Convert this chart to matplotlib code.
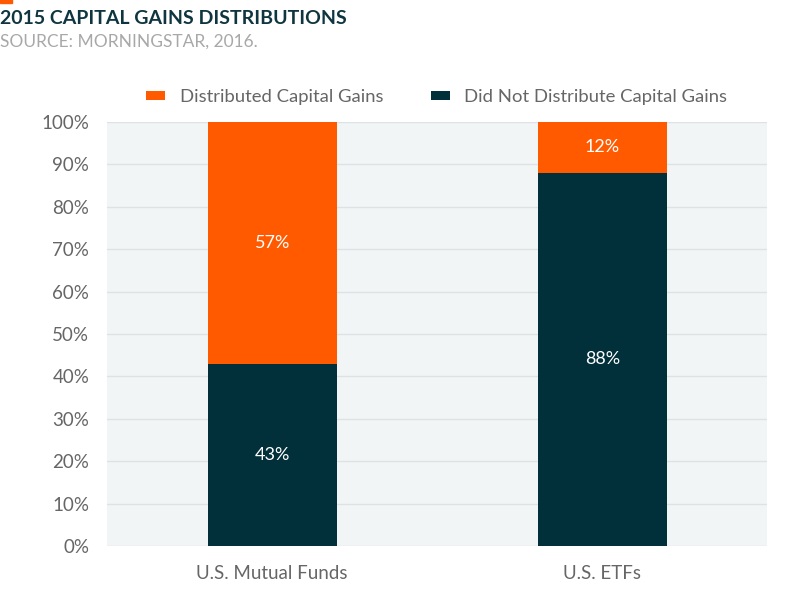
import matplotlib.pyplot as plt
from matplotlib.patches import Rectangle

plt.rcParams['font.family'] = ['Lato', 'DejaVu Sans']

categories = ["U.S. Mutual Funds", "U.S. ETFs"]
did_not = [43, 88]
distributed = [57, 12]

ORANGE = "#ff5a00"
DARK = "#01303a"
GREY = "#666666"

fig = plt.figure(figsize=(8, 6.09), dpi=100)
ax = fig.add_axes([0.134, 0.1034, 0.825, 0.6963])
ax.set_facecolor("#f2f5f6")

x = range(len(categories))
ax.bar(x, did_not, width=0.39, color=DARK, label="Did Not Distribute Capital Gains", zorder=3)
ax.bar(x, distributed, width=0.39, bottom=did_not, color=ORANGE,
       label="Distributed Capital Gains", zorder=3)

for i in x:
    ax.text(i, did_not[i] / 2, f"{did_not[i]}%", ha="center", va="center",
            color="white", fontsize=13, zorder=4)
    ax.text(i, did_not[i] + distributed[i] / 2, f"{distributed[i]}%", ha="center",
            va="center", color="white", fontsize=13, zorder=4)

ax.set_xlim(-0.5, 1.5)
ax.set_ylim(0, 100)
ax.set_yticks(range(0, 101, 10))
ax.set_yticklabels([f"{v}%" for v in range(0, 101, 10)])
ax.set_xticks(list(x))
ax.set_xticklabels(categories)
ax.tick_params(axis="both", length=0, colors=GREY, labelsize=13.5)
ax.tick_params(axis="x", pad=14)
ax.tick_params(axis="y", pad=13)
ax.grid(axis="y", color="#dde3e5", linewidth=1, zorder=0)
for s in ax.spines.values():
    s.set_visible(False)

handles, labels = ax.get_legend_handles_labels()
fig.legend(handles[::-1], labels[::-1], loc="center", bbox_to_anchor=(0.546, 0.84),
           ncol=2, frameon=False, fontsize=13.3, handlelength=1.0, handleheight=0.35,
           columnspacing=2.6, labelcolor=GREY)

fig.text(0.0, 0.97, "2015 CAPITAL GAINS DISTRIBUTIONS", fontsize=14, fontweight="bold",
         color="#0f3540", va="center", ha="left")
fig.text(0.0, 0.931, "SOURCE: MORNINGSTAR, 2016.", fontsize=12.5, color="#a8a8a8",
         va="center", ha="left")
fig.patches.append(Rectangle((0, 0.995), 0.015, 0.006, transform=fig.transFigure,
                             color=ORANGE, figure=fig))

fig.savefig("out.png", dpi=100)
